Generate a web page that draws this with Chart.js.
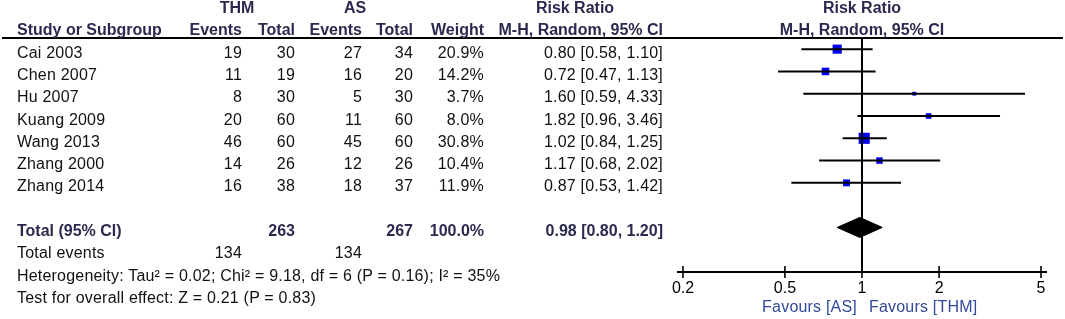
<!DOCTYPE html>
<html><head><meta charset="utf-8">
<script src="https://cdn.jsdelivr.net/npm/chart.js@4/dist/chart.umd.min.js"></script>
<style>
html,body{margin:0;padding:0;background:#fff;}
#wrap{position:relative;width:1065px;height:319px;overflow:hidden;font-family:"Liberation Sans",Arial,sans-serif;}
#c{position:absolute;left:0;top:0;}
.t{position:absolute;font-size:16px;line-height:18px;white-space:nowrap;color:#111;letter-spacing:0.2px;}
.b{font-weight:bold;color:#2b2a4e;letter-spacing:0;}
.f{color:#33489a;letter-spacing:0.2px;}
</style></head><body>
<div id="wrap"><canvas id="c" width="1065" height="319"></canvas></div>
<script>
// ---- data ----
const studies   = ["Cai 2003","Chen 2007","Hu 2007","Kuang 2009","Wang 2013","Zhang 2000","Zhang 2014"];
const thmEvents = [19, 11, 8, 20, 46, 14, 16];
const thmTotal  = [30, 19, 30, 60, 60, 26, 38];
const asEvents  = [27, 16, 5, 11, 45, 12, 18];
const asTotal   = [34, 20, 30, 60, 60, 26, 37];
const weights   = [20.9, 14.2, 3.7, 8.0, 30.8, 10.4, 11.9];
const rr        = [0.80, 0.72, 1.60, 1.82, 1.02, 1.17, 0.87];
const ciLow     = [0.58, 0.47, 0.59, 0.96, 0.84, 0.68, 0.53];
const ciHigh    = [1.10, 1.13, 4.33, 3.46, 1.25, 2.02, 1.42];
const pooledEst = 0.98, pooledLow = 0.80, pooledHigh = 1.20;
const totalN    = [263, 267];
const totalEvents = [134, 134];
const totalWeight = 100.0;
const xTicks    = [0.2, 0.5, 1, 2, 5];
const heterogeneityText = "Heterogeneity: Tau\u00B2 = 0.02; Chi\u00B2 = 9.18, df = 6 (P = 0.16); I\u00B2 = 35%";
const overallText = "Test for overall effect: Z = 0.21 (P = 0.83)";

// ---- rows (y units) ----
const totalRow = studies.length + 1;   // 8
const axisRow = totalRow + 2;          // 10

const datasets = [];
datasets.push({ data:[{x:1,y:-0.5},{x:1,y:axisRow}], showLine:true, borderColor:'#000', borderWidth:2, pointRadius:0, clip:false });
studies.forEach((s,i)=>{
  datasets.push({ data:[{x:ciLow[i],y:i},{x:ciHigh[i],y:i}], showLine:true, borderColor:'#000', borderWidth:2, pointRadius:0, clip:false });
});
datasets.push({
  data: studies.map((s,i)=>({x:rr[i], y:i})),
  pointStyle:'rect',
  pointRadius: weights.map(w => 2.0*Math.sqrt(w)/1.414),
  backgroundColor:'#0000F0', pointBackgroundColor:'#0000F0', borderColor:'#0000F0', pointBorderColor:'#0000F0',
  borderWidth:0, pointBorderWidth:0, clip:false
});
datasets.push({
  data:[{x:pooledLow,y:totalRow},{x:pooledEst,y:totalRow-0.45},{x:pooledHigh,y:totalRow},{x:pooledEst,y:totalRow+0.45},{x:pooledLow,y:totalRow}],
  showLine:true, fill:'shape', borderColor:'#000', backgroundColor:'#000', borderWidth:1, pointRadius:0, tension:0, clip:false
});

const deco = {
  id:'deco',
  afterDatasetsDraw(chart){
    const ctx = chart.ctx, x = chart.scales.x, y = chart.scales.y;
    const ay = chart.chartArea.bottom;
    ctx.save();
    ctx.strokeStyle = '#000';
    ctx.lineWidth = 2;
    const hy = y.getPixelForValue(-0.5);
    ctx.beginPath(); ctx.moveTo(2,hy); ctx.lineTo(1063,hy); ctx.stroke();
    ctx.beginPath();
    ctx.moveTo(x.getPixelForValue(xTicks[0]) - 6, ay);
    ctx.lineTo(x.getPixelForValue(xTicks[xTicks.length-1]) + 6, ay);
    ctx.stroke();
    ctx.lineWidth = 1.6;
    x.ticks.forEach(t=>{
      const px = x.getPixelForValue(t.value);
      ctx.beginPath(); ctx.moveTo(px, ay-6); ctx.lineTo(px, ay+6); ctx.stroke();
    });
    ctx.restore();
  }
};

const chart = new Chart(document.getElementById('c'), {
  type:'scatter',
  data:{ datasets },
  options:{
    responsive:false, animation:false, devicePixelRatio:1,
    events:[],
    layout:{ padding:{ left:683, right:24, top:38, bottom:17 } },
    plugins:{ legend:{display:false}, tooltip:{enabled:false} },
    scales:{
      x:{
        type:'logarithmic', min:xTicks[0], max:xTicks[xTicks.length-1],
        afterBuildTicks: s => { s.ticks = xTicks.map(v=>({value:v})); },
        afterFit: s => { s.height = 30; },
        grid:{ display:false, drawTicks:false },
        border:{ display:false },
        ticks:{ padding:7, color:'#000', font:{ family:'"Liberation Sans", Arial, sans-serif', size:16 },
                callback: v => String(v), autoSkip:false, maxRotation:0 }
      },
      y:{ type:'linear', reverse:true, min:-0.5, max:axisRow, display:false }
    }
  },
  plugins:[deco]
});

// ---- table text (DOM) ----
const wrap = document.getElementById('wrap');
const ys = chart.scales.y, xs = chart.scales.x;
function put(text, cy, x, align, cls){
  const d = document.createElement('div');
  d.className = 't' + (cls ? ' '+cls : '');
  d.textContent = text;
  d.style.top = (cy - 9) + 'px';
  if (align === 'left') d.style.left = x + 'px';
  else if (align === 'right') d.style.right = (1065 - x) + 'px';
  else { d.style.left = x + 'px'; d.style.transform = 'translateX(-50%)'; }
  wrap.appendChild(d);
}
const rowY = r => ys.getPixelForValue(r) + 3.5;
const col = { name:17, thmE:242, thmT:295, asE:362, asT:413, w:484, rr:663 };
const plotMid = xs.getPixelForValue(1);

put("THM", rowY(-2), 237, 'center', 'b');
put("AS", rowY(-2), 355, 'center', 'b');
put("Risk Ratio", rowY(-2), 575, 'center', 'b');
put("Risk Ratio", rowY(-2), plotMid, 'center', 'b');
put("Study or Subgroup", rowY(-1), col.name, 'left', 'b');
put("Events", rowY(-1), col.thmE, 'right', 'b');
put("Total", rowY(-1), col.thmT, 'right', 'b');
put("Events", rowY(-1), col.asE, 'right', 'b');
put("Total", rowY(-1), col.asT, 'right', 'b');
put("Weight", rowY(-1), col.w, 'right', 'b');
put("M-H, Random, 95% CI", rowY(-1), col.rr, 'right', 'b');
put("M-H, Random, 95% CI", rowY(-1), plotMid, 'center', 'b');

studies.forEach((s,i)=>{
  const cy = rowY(i);
  put(s, cy, col.name, 'left');
  put(String(thmEvents[i]), cy, col.thmE, 'right');
  put(String(thmTotal[i]), cy, col.thmT, 'right');
  put(String(asEvents[i]), cy, col.asE, 'right');
  put(String(asTotal[i]), cy, col.asT, 'right');
  put(weights[i].toFixed(1)+'%', cy, col.w, 'right');
  put(rr[i].toFixed(2)+' ['+ciLow[i].toFixed(2)+', '+ciHigh[i].toFixed(2)+']', cy, col.rr, 'right');
});

put("Total (95% CI)", rowY(totalRow), col.name, 'left', 'b');
put(String(totalN[0]), rowY(totalRow), col.thmT, 'right', 'b');
put(String(totalN[1]), rowY(totalRow), col.asT, 'right', 'b');
put(totalWeight.toFixed(1)+'%', rowY(totalRow), col.w, 'right', 'b');
put(pooledEst.toFixed(2)+' ['+pooledLow.toFixed(2)+', '+pooledHigh.toFixed(2)+']', rowY(totalRow), col.rr, 'right', 'b');
put("Total events", rowY(totalRow+1), col.name, 'left');
put(String(totalEvents[0]), rowY(totalRow+1), col.thmE, 'right');
put(String(totalEvents[1]), rowY(totalRow+1), col.asE, 'right');
put(heterogeneityText, rowY(totalRow+2), col.name, 'left');
put(overallText, rowY(totalRow+3), col.name, 'left');

const fy = chart.chartArea.bottom + 35;
put("Favours [AS]", fy, plotMid - 5, 'right', 'f');
put("Favours [THM]", fy, plotMid + 7, 'left', 'f');
</script>
</body></html>
